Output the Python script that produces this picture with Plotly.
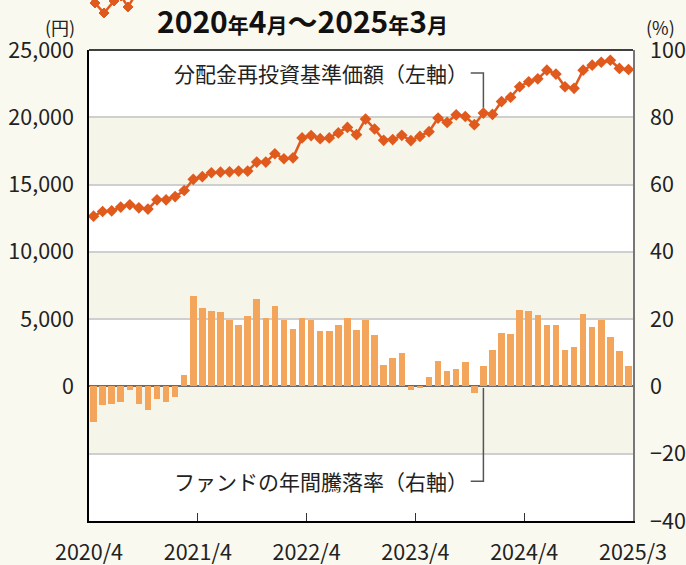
import plotly.graph_objects as go

# ---- data ----
months = [f"{2020 + (3 + i) // 12}/{(3 + i) % 12 + 1}" for i in range(60)]  # 2020/4 ... 2025/3
nav_yen = [12650, 13000, 13050, 13330, 13500, 13270, 13180, 13870, 13870, 14110,
           14560, 15390, 15590, 15880, 15920, 15950, 16000, 16000, 16670, 16670,
           17290, 16920, 16990, 18470, 18640, 18410, 18470, 18840, 19250, 18710,
           19870, 19130, 18290, 18340, 18660, 18270, 18580, 18930, 19940, 19620,
           20180, 20060, 19450, 20310, 20210, 21170, 21490, 22270, 22640, 22860,
           23500, 23210, 22270, 22150, 23500, 23870, 24090, 24240, 23630, 23550]
annual_return_pct = [-10.7, -5.6, -5.3, -4.7, -1.2, -5.3, -7.1, -3.6, -4.5, -3.0,
                     3.3, 27.0, 23.4, 22.3, 22.0, 19.6, 18.4, 20.8, 26.1, 20.2,
                     24.0, 19.6, 17.2, 20.2, 19.6, 16.6, 16.6, 18.4, 20.2, 16.9,
                     19.6, 15.4, 6.5, 8.6, 9.8, -1.2, -0.3, 2.7, 7.7, 4.7,
                     5.3, 7.4, -2.0, 6.2, 10.7, 16.0, 15.7, 22.6, 22.3, 21.1,
                     18.4, 18.4, 10.7, 11.6, 21.4, 17.8, 19.6, 14.8, 10.4, 6.2]
x_tick_labels = ["2020/4", "2021/4", "2022/4", "2023/4", "2024/4", "2025/3"]
left_ticks = [0, 5000, 10000, 15000, 20000, 25000]
right_ticks = [-40, -20, 0, 20, 40, 60, 80, 100]

xs = list(range(len(months)))
x_tick_pos = [-0.5, 11.5, 23.5, 35.5, 47.5, 59.5]

FONT = "Noto Sans CJK JP, Noto Sans, sans-serif"
PAGE_BG = "#faf9f0"
BAND = "#f6f5e9"
LINE_C = "#e05a1e"
BAR_C = "#f4a55c"

fig = go.Figure()
fig.add_trace(go.Bar(x=xs, y=annual_return_pct, yaxis="y2", marker_color=BAR_C,
                     marker_line_width=0, width=0.72, hoverinfo="skip"))
fig.add_trace(go.Scatter(x=xs, y=nav_yen, yaxis="y", mode="lines+markers",
                         line=dict(color=LINE_C, width=2.5),
                         marker=dict(symbol="diamond", size=9, color=LINE_C)))

shapes = []
# alternating bands (left-axis units)
for lo, hi in [(15000, 20000), (5000, 10000), (-5000, 0)]:
    shapes.append(dict(type="rect", xref="paper", yref="y", x0=0, x1=1, y0=lo, y1=hi,
                       fillcolor=BAND, line_width=0, layer="below"))
# leader lines for labels
shapes.append(dict(type="path", xref="x", yref="y",
                   path="M 41.6,23300 L 43,23300 L 43,20700",
                   line=dict(color="#555", width=1.5)))
shapes.append(dict(type="path", xref="x", yref="y2",
                   path="M 41.6,-28.2 L 43,-28.2 L 43,-0.5",
                   line=dict(color="#555", width=1.5)))
# top border
shapes.append(dict(type="line", xref="paper", yref="paper", x0=0, x1=1, y0=1, y1=1,
                   line=dict(color="#000", width=1.5)))

# partially cut legend icon at top-left
def px2p(px, py):
    return (px - 89) / 544, (521 - py) / 471
icon_pts = [(88, -6), (95, 3), (104, 13), (114, 1), (121, -4), (128, 7), (134, -3)]
pp = [px2p(a, b) for a, b in icon_pts]
shapes.append(dict(type="path", xref="paper", yref="paper",
                   path="M " + " L ".join(f"{a:.4f},{b:.4f}" for a, b in pp),
                   line=dict(color=LINE_C, width=2.5)))
for a, b in icon_pts[1:6]:
    cx, cy = a, b
    d = [px2p(cx, cy - 5), px2p(cx + 5, cy), px2p(cx, cy + 5), px2p(cx - 5, cy)]
    shapes.append(dict(type="path", xref="paper", yref="paper",
                       path="M " + " L ".join(f"{u:.4f},{v:.4f}" for u, v in d) + " Z",
                       fillcolor=LINE_C, line=dict(color=LINE_C, width=1)))

annotations = [
    dict(xref="paper", yref="paper", x=(302 - 89) / 544, y=(521 - 20) / 471,
         xanchor="center", yanchor="middle", showarrow=False,
         text="<b>2020<span style='font-size:21px'>年</span>4<span style='font-size:21px'>月</span>"
              "～2025<span style='font-size:21px'>年</span>3<span style='font-size:21px'>月</span></b>",
         font=dict(family=FONT, size=30, color="#111")),
    dict(xref="paper", yref="paper", x=(60 - 89) / 544, y=(521 - 27) / 471,
         xanchor="center", yanchor="middle", showarrow=False, text="(円)",
         font=dict(family=FONT, size=18, color="#222")),
    dict(xref="paper", yref="paper", x=(660 - 89) / 544, y=(521 - 27) / 471,
         xanchor="center", yanchor="middle", showarrow=False, text="(%)",
         font=dict(family=FONT, size=18, color="#222")),
    dict(xref="x", yref="y", x=41.5, y=23300, xanchor="right", yanchor="middle",
         showarrow=False, text="分配金再投資基準価額（左軸）",
         font=dict(family=FONT, size=21, color="#222")),
    dict(xref="x", yref="y2", x=41.5, y=-28.2, xanchor="right", yanchor="middle",
         showarrow=False, text="ファンドの年間騰落率（右軸）",
         font=dict(family=FONT, size=21, color="#222")),
]

fig.update_layout(
    width=686, height=565,
    margin=dict(l=89, r=53, t=50, b=44),
    paper_bgcolor=PAGE_BG, plot_bgcolor="#ffffff",
    showlegend=False, bargap=0,
    font=dict(family=FONT, size=21, color="#222"),
    shapes=shapes, annotations=annotations,
    xaxis=dict(range=[-0.5, 59.5], tickvals=x_tick_pos, ticktext=x_tick_labels,
               ticks="inside", ticklen=8, tickcolor="#333", tickwidth=1,
               showline=True, linecolor="#000", linewidth=1.5, automargin=False,
               showgrid=False, zeroline=False, ticklabelstandoff=11,
               tickfont=dict(size=21.5)),
    yaxis=dict(range=[-10000, 25000], tickvals=left_ticks,
               ticktext=[f"{v:,}" for v in left_ticks], automargin=False,
               showgrid=False, zeroline=False, showline=True, linecolor="#000",
               linewidth=1.5, ticks="", ticklabelstandoff=9, tickfont=dict(size=21.5)),
    yaxis2=dict(range=[-40, 100], tickvals=right_ticks,
                ticktext=[str(v).replace("-", "−") for v in right_ticks],
                overlaying="y", side="right", showgrid=True, gridcolor="#cfcfcf",
                gridwidth=1.5, zeroline=True, zerolinecolor="#6b6b6b", zerolinewidth=2,
                showline=True, linecolor="#777", linewidth=1.5, ticks="", automargin=False,
                ticklabelstandoff=11, tickfont=dict(size=21.5)),
)

fig.write_html("out.html", config={"displayModeBar": False},
               post_script="document.body.style.margin='0';document.body.style.background='#faf9f0';")
